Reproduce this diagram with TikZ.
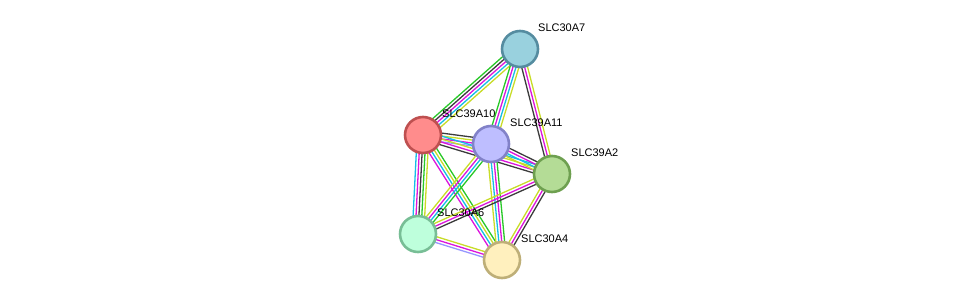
\documentclass[tikz,border=0pt]{standalone}
\usepackage{fontspec}
\setmainfont{Liberation Sans}
\usetikzlibrary{calc,backgrounds}

\definecolor{egreen}{RGB}{40,200,40}
\definecolor{ecyan}{RGB}{20,190,230}
\definecolor{emag}{RGB}{220,20,220}
\definecolor{eblack}{RGB}{60,60,60}
\definecolor{eyellow}{RGB}{200,220,40}
\definecolor{elav}{RGB}{150,150,255}

\definecolor{a7fill}{RGB}{153,209,222}\definecolor{a7line}{RGB}{85,140,160}
\definecolor{a10fill}{RGB}{255,140,140}\definecolor{a10line}{RGB}{190,80,80}
\definecolor{a11fill}{RGB}{190,190,255}\definecolor{a11line}{RGB}{130,130,200}
\definecolor{a2fill}{RGB}{180,220,150}\definecolor{a2line}{RGB}{110,160,80}
\definecolor{a6fill}{RGB}{190,255,220}\definecolor{a6line}{RGB}{120,190,150}
\definecolor{a4fill}{RGB}{255,240,190}\definecolor{a4line}{RGB}{190,175,120}

\tikzset{
  prot/.style={circle,minimum size=36pt,inner sep=0pt,line width=2.6pt,draw=#1line,fill=#1fill},
  lbl/.style={anchor=west,inner sep=0pt,font=\fontsize{11}{13}\selectfont},
}

% one edge = several thin parallel lines, one per evidence colour
\newcommand{\evedge}[4]{%
  \foreach \c [count=\i] in {#4} {
    \pgfmathsetmacro\off{(\i-(#3+1)/2)*2.9}
    \draw[\c,line width=1.3pt] ($(#1.center)!\off pt!90:(#2.center)$) -- ($(#2.center)!\off pt!-90:(#1.center)$);
  }%
}

\begin{document}
\begin{tikzpicture}[x=1pt,y=-1pt]
\useasboundingbox (0,0) rectangle (976,305);

\node[prot=a7] (a7) at (520,49) {};
\node[prot=a10] (a10) at (423,135) {};
\node[prot=a11] (a11) at (491,144) {};
\node[prot=a2] (a2) at (552,174) {};
\node[prot=a6] (a6) at (418,234) {};
\node[prot=a4] (a4) at (502,260) {};

\node[lbl] (a7l) at ([shift={(18,-21)}]a7.center) {SLC30A7};
\node[lbl] (a10l) at ([shift={(19,-21)}]a10.center) {SLC39A10};
\node[lbl] (a11l) at ([shift={(19,-21)}]a11.center) {SLC39A11};
\node[lbl] (a2l) at ([shift={(19,-21)}]a2.center) {SLC39A2};
\node[lbl] (a6l) at ([shift={(19,-21)}]a6.center) {SLC30A6};
\node[lbl] (a4l) at ([shift={(19,-21)}]a4.center) {SLC30A4};

\begin{pgfonlayer}{background}
\evedge{a7}{a10}{5}{egreen,eblack,emag,ecyan,eyellow}
\evedge{a7}{a11}{4}{egreen,emag,ecyan,eyellow}
\evedge{a7}{a2}{3}{eblack,emag,eyellow}
\evedge{a10}{a11}{4}{elav,emag,eyellow,eblack}
\evedge{a10}{a2}{4}{eblack,emag,eyellow,ecyan}
\evedge{a10}{a6}{5}{ecyan,emag,eblack,egreen,eyellow}
\evedge{a10}{a4}{4}{emag,ecyan,eyellow,egreen}
\evedge{a11}{a2}{4}{eyellow,ecyan,emag,eblack}
\evedge{a11}{a6}{4}{eyellow,emag,ecyan,egreen}
\evedge{a11}{a4}{4}{eyellow,ecyan,emag,egreen}
\evedge{a2}{a6}{3}{eyellow,emag,eblack}
\evedge{a2}{a4}{3}{eyellow,emag,eblack}
\evedge{a6}{a4}{3}{elav,emag,eyellow}
\end{pgfonlayer}
\end{tikzpicture}
\end{document}
